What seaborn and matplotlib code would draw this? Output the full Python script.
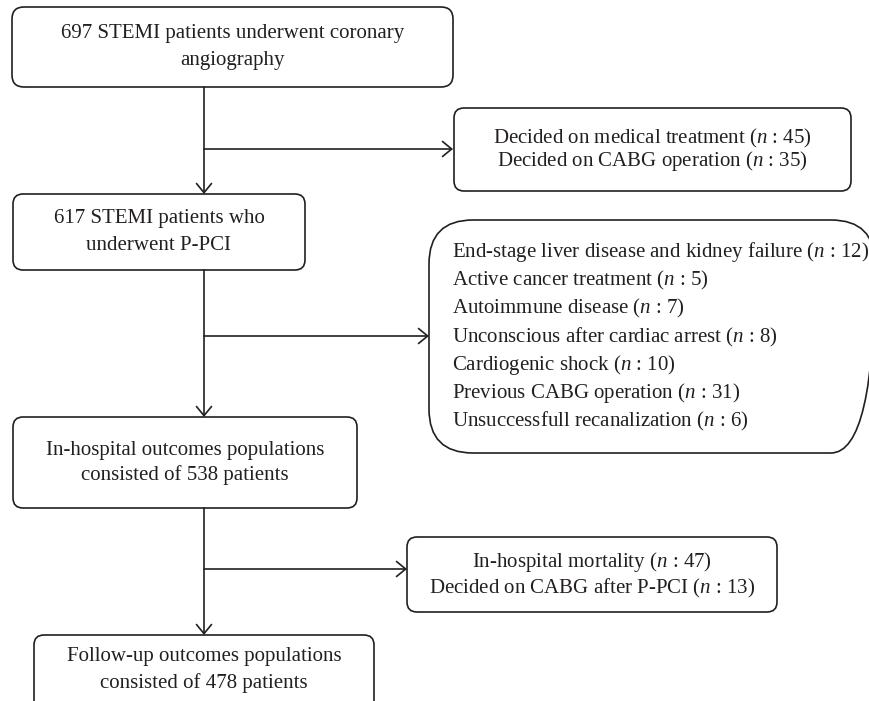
# Libraries
import matplotlib.pyplot as plt
import seaborn as sns
from matplotlib.patches import FancyBboxPatch

# Flow diagram of the STEMI patient selection

# Box texts (one list per box, one entry per line)
start_lines = ['697 STEMI patients underwent coronary', 'angiography']
excl1_lines = [r'Decided on medical treatment ($\mathit{n}$ : 45)',
               r'Decided on CABG operation ($\mathit{n}$ : 35)']
ppci_lines = ['617 STEMI patients who', 'underwent P-PCI']
excl2_lines = [r'End-stage liver disease and kidney failure ($\mathit{n}$ : 12)',
               r'Active cancer treatment ($\mathit{n}$ : 5)',
               r'Autoimmune disease ($\mathit{n}$ : 7)',
               r'Unconscious after cardiac arrest ($\mathit{n}$ : 8)',
               r'Cardiogenic shock ($\mathit{n}$ : 10)',
               r'Previous CABG operation ($\mathit{n}$ : 31)',
               r'Unsuccessfull recanalization ($\mathit{n}$ : 6)']
inhosp_lines = ['In-hospital outcomes populations', 'consisted of 538 patients']
excl3_lines = [r'In-hospital mortality ($\mathit{n}$ : 47)',
               r'Decided on CABG after P-PCI ($\mathit{n}$ : 13)']
follow_lines = ['Follow-up outcomes populations', 'consisted of 478 patients']

# Layout (pixels): x, y, width, height, corner radius, text centre y, line spacing, align
boxes = [
    (start_lines, 12, 7, 441, 80, 12, 47, 27, 'center'),
    (excl1_lines, 454, 108, 397, 83, 10, 149.5, 23, 'center'),
    (ppci_lines, 13, 194, 292, 76, 10, 232, 27, 'center'),
    (excl2_lines, 429, 220, 446, 233, 44, 337, 28.2, 'left'),
    (inhosp_lines, 13, 417, 344, 91, 10, 462.5, 25, 'center'),
    (excl3_lines, 407, 537, 370, 75, 10, 575, 26, 'center'),
    (follow_lines, 34, 635, 340, 80, 10, 670, 26, 'center'),
]
trunk_x = 204
# (top, bottom of trunk, branch y, branch end x)
links = [(87, 194, 149, 453), (270, 417, 336, 429), (508, 635, 569, 407)]

ink = '#231f20'

sns.set_theme(style='white')
plt.rcParams['font.family'] = ['Liberation Serif', 'DejaVu Serif']
plt.rcParams['mathtext.fontset'] = 'custom'
plt.rcParams['mathtext.rm'] = 'Liberation Serif'
plt.rcParams['mathtext.it'] = 'Liberation Serif:italic'

fig = plt.figure(figsize=(8.7, 7.01), dpi=100)
ax = fig.add_axes([0, 0, 1, 1])
ax.set_xlim(0, 870)
ax.set_ylim(701, 0)
ax.axis('off')

for lines, x, y, w, h, r, cy, step, align in boxes:
    ax.add_patch(FancyBboxPatch((x, y), w, h, boxstyle=f'round,pad=0,rounding_size={r}',
                                fill=False, edgecolor=ink, linewidth=1.2))
    tx = x + w / 2 if align == 'center' else x + 23
    for i, line in enumerate(lines):
        ty = cy + (i - (len(lines) - 1) / 2) * step
        ax.text(tx, ty, line, ha=align, va='center', fontsize=15, color=ink)

arrow = dict(arrowstyle='->,head_length=0.55,head_width=0.45', color=ink, lw=1.2,
             shrinkA=0, shrinkB=0, mutation_scale=12)
for top, bottom, by, bx in links:
    ax.annotate('', xy=(trunk_x, bottom), xytext=(trunk_x, top), arrowprops=arrow)
    ax.annotate('', xy=(bx, by), xytext=(trunk_x, by), arrowprops=arrow)

plt.savefig('out.png', dpi=100)
